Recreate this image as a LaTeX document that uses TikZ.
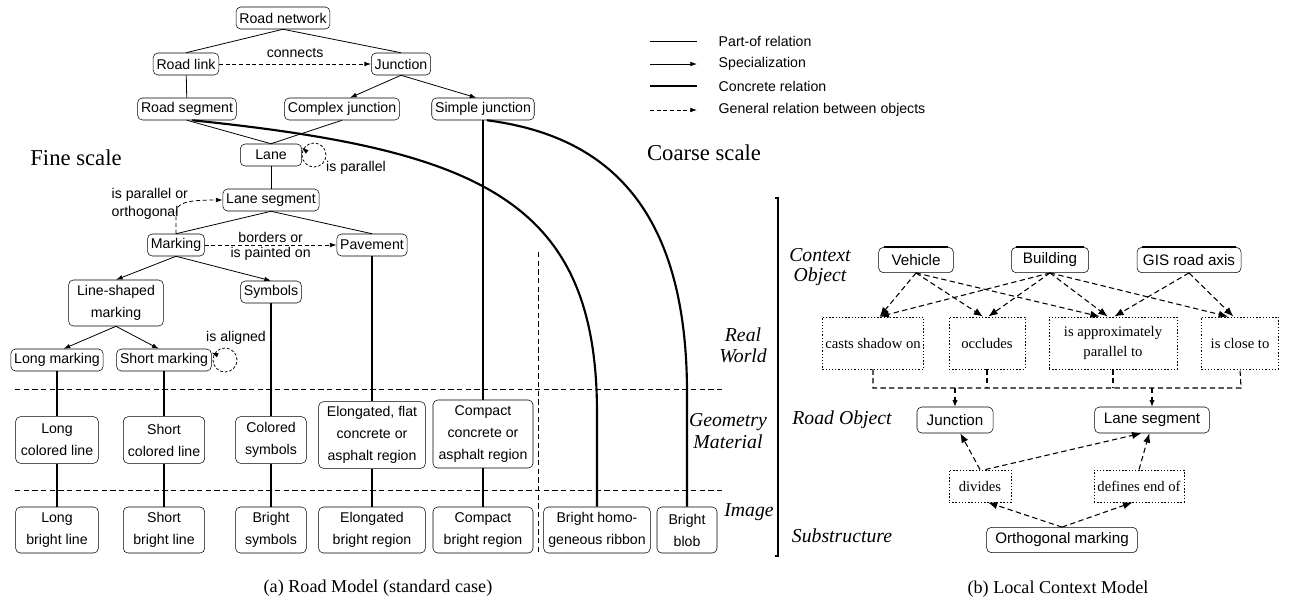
\documentclass[tikz,border=0pt]{standalone}
\usepackage{fontspec}
\setmainfont{Liberation Serif}
\setsansfont{Liberation Sans}
\usetikzlibrary{arrows.meta}

\begin{document}
\begin{tikzpicture}[x=0.75pt,y=-0.75pt,
  box/.style={draw, rounded corners=3.5pt, align=center, inner xsep=2.5pt, inner ysep=1.5pt,
    minimum height=16.5pt, font=\sffamily\fontsize{10.6}{16.5}\selectfont},
  bbox/.style={box, minimum height=19pt, font=\sffamily\fontsize{11.4}{14}\selectfont},
  relbox/.style={draw, dash pattern=on 1pt off 1.4pt, line width=0.7pt, align=center,
    minimum height=39pt, inner sep=1pt, font=\fontsize{11}{15}\selectfont},
  part/.style={line width=0.6pt},
  spec/.style={line width=0.6pt, -{Latex[length=5pt,width=3.5pt]}},
  conc/.style={line width=1.6pt},
  gen/.style={line width=0.6pt, dash pattern=on 3pt off 2pt, -{Latex[length=5pt,width=3.5pt]}},
  genb/.style={line width=0.8pt, dash pattern=on 4pt off 2.5pt, -{Latex[length=7pt,width=5.5pt]}},
  level/.style={font=\itshape\fontsize{14.8}{15.5}\selectfont, align=center},
  lbl/.style={font=\sffamily\fontsize{10.6}{13}\selectfont, align=left},
  sep/.style={line width=0.6pt, dash pattern=on 4pt off 2.5pt},
  loopc/.style={circle, draw, line width=0.6pt, dash pattern=on 2pt off 1.5pt, minimum size=18pt, inner sep=0pt},
]
\useasboundingbox (0,0) rectangle (1294,601);

% (a) road model
\node[box] (rnet) at (283,18) {Road network};
\node[box] (rlink) at (186,64) {Road link};
\node[box] (junc) at (401,64) {Junction};
\node[box] (rseg) at (187,109) {Road segment};
\node[box] (cjunc) at (342,109) {Complex junction};
\node[box] (sjunc) at (483,109) {Simple junction};
\node[box, minimum width=46pt] (lane) at (271,155) {Lane};
\node[box] (lseg) at (271,200) {Lane segment};
\node[box] (mark) at (176,245) {Marking};
\node[box] (pave) at (372,245) {Pavement};
\node[box, minimum width=71pt, minimum height=34.5pt] (lsm) at (116,303) {Line-shaped\\marking};
\node[box] (sym) at (271,292) {Symbols};
\node[box] (lmark) at (57,360) {Long marking};
\node[box] (smark) at (164,360) {Short marking};

\node[box, minimum width=62pt, minimum height=35pt] (lcol) at (57,440) {Long\\colored line};
\node[box, minimum width=61pt, minimum height=35pt] (scol) at (164,440) {Short\\colored line};
\node[box, minimum width=53pt, minimum height=35pt] (csym) at (271,440) {Colored\\symbols};
\node[box, minimum width=80pt, minimum height=50pt] (elong) at (372,435) {Elongated, flat\\concrete or\\asphalt region};
\node[box, minimum width=75pt, minimum height=51pt] (cmpct) at (483,434) {Compact\\concrete or\\asphalt region};

\node[box, minimum width=62pt, minimum height=34.5pt] (lbr) at (57,530) {Long\\bright line};
\node[box, minimum width=61pt, minimum height=34.5pt] (sbr) at (164,530) {Short\\bright line};
\node[box, minimum width=53pt, minimum height=34.5pt] (bsym) at (271,530) {Bright\\symbols};
\node[box, minimum width=80pt, minimum height=34.5pt] (ebr) at (372,530) {Elongated\\bright region};
\node[box, minimum width=75pt, minimum height=34.5pt] (cbr) at (483,530) {Compact\\bright region};
\node[box, minimum width=80pt, minimum height=34.5pt] (ribbon) at (597,530) {Bright homo-\\geneous ribbon};
\node[box, minimum width=45pt, minimum height=34.5pt] (blob) at (687,530) {Bright\\blob};

\draw[part] (rnet.south) -- (rlink.north);
\draw[part] (rnet.south) -- (junc.north);
\draw[part] (rlink) -- (rseg);
\draw[spec] (junc.south) -- ([xshift=6pt]cjunc.north);
\draw[spec] (junc.south) -- ([xshift=-5pt]sjunc.north);
\draw[part] (rseg.south) -- (lane.north);
\draw[part] (cjunc.south) -- (lane.north);
\draw[part] (lane) -- (lseg);
\draw[part] (lseg.south) -- (mark.north);
\draw[part] (lseg.south) -- (pave.north);
\draw[spec] (mark.south) -- (lsm.north);
\draw[spec] (mark.south) -- (sym.north);
\draw[spec] (lsm.south) -- ([xshift=5pt]lmark.north);
\draw[spec] (lsm.south) -- ([xshift=-4pt]smark.north);

\draw[gen] (rlink) -- (junc) node[midway, above=1pt, lbl] (conn) {connects};
\draw[gen] (mark) -- (pave)
  node[midway, above=-2pt, lbl] (bord) {borders or}
  node[midway, below=-2pt, lbl] (paint) {is painted on};
\draw[gen] (mark.north) -- (176,214) .. controls (176,203) and (185,200) .. (lseg.west);
\node[lbl, anchor=west] (parorth) at (107,204) {is parallel or\\orthogonal};

\node[loopc] (lloop) at (314,155) {};
\draw[gen] (lloop.150) -- ([yshift=-3pt]lane.north east);
\node[lbl] (ispar) at (356,168) {is parallel};
\node[loopc] (sloop) at (225,360) {};
\draw[gen] (sloop.150) -- ([yshift=-3pt]smark.north east);
\node[lbl] (isal) at (236,338) {is aligned};

\draw[conc] (lmark) -- (lcol) -- (lbr);
\draw[conc] (smark) -- (scol) -- (sbr);
\draw[conc] (sym) -- (csym) -- (bsym);
\draw[conc] (pave) -- (elong) -- (ebr);
\draw[conc] (sjunc) -- (cmpct) -- (cbr);
\draw[conc] ([xshift=4pt]rseg.south) .. controls (480,150) and (597,200) .. (597,413) -- (ribbon);
\draw[conc] ([xshift=3pt]sjunc.south) .. controls (600,135) and (687,200) .. (687,393) -- (blob);

\draw[sep] (15,389) -- (725,389);
\draw[sep] (15,490) -- (725,490);
\draw[sep] (538,252) -- (538,552);

\node[font=\fontsize{17}{20}\selectfont] (fine) at (76,158) {Fine scale};
\node[font=\fontsize{17}{20}\selectfont] (coarse) at (704,153) {Coarse scale};
\node[level] (real) at (743,345) {Real\\World};
\node[level, font=\itshape\fontsize{14.8}{16.5}\selectfont] (geom) at (728,431) {Geometry\\Material};
\node[level] (img) at (749,512) {Image};

% legend
\draw[part] (650,41) -- (697,41);
\draw[spec] (650,64) -- (697,64);
\draw[conc] (650,86) -- (697,86);
\draw[gen] (650,110) -- (697,110);
\node[lbl, anchor=west] (lg1) at (714,41) {Part-of relation};
\node[lbl, anchor=west] (lg2) at (714,64) {Specialization};
\node[lbl, anchor=west] (lg3) at (714,86) {Concrete relation};
\node[lbl, anchor=west] (lg4) at (714,110) {General relation between objects};

\node[font=\fontsize{13.6}{16}\selectfont] (capa) at (378,588) {(a) Road Model (standard case)};

% (b) local context model
\draw[line width=0.8pt] (775,198) -- (778,198) -- (778,556) -- (775,556);

\node[level] (ctxl) at (820,267) {Context\\Object};
\node[level] (robl) at (842,420) {Road Object};
\node[level] (subl) at (842,536) {Substructure};

\node[bbox, minimum width=56pt] (veh) at (916,260) {Vehicle};
\node[bbox, minimum width=58pt] (bld) at (1050,260) {Building};
\node[bbox, minimum width=78pt] (gis) at (1189,260) {GIS road axis};
\foreach \n in {veh,bld,gis}
  \draw[line width=1.6pt] ([xshift=4pt]\n.north west) -- ([xshift=-4pt]\n.north east);

\node[relbox, minimum width=76pt] (cast) at (873,343) {casts shadow on};
\node[relbox, minimum width=57pt] (occl) at (987,343) {occludes};
\node[relbox, minimum width=96pt] (appr) at (1113,343) {is approximately\\parallel to};
\node[relbox, minimum width=58pt] (near) at (1240,343) {is close to};

\node[bbox, minimum width=57pt, minimum height=19.5pt] (jct) at (955,420) {Junction};
\node[bbox, minimum width=86pt, minimum height=19.5pt] (lseg2) at (1152,420) {Lane segment};
\node[relbox, minimum width=46.5pt, minimum height=24pt] (div) at (980,486) {divides};
\node[relbox, minimum width=67.5pt, minimum height=24pt] (dend) at (1139,486) {defines end of};
\node[bbox, minimum width=113pt] (orth) at (1062,540) {Orthogonal marking};

\draw[genb] (veh.south) -- ([xshift=5pt]cast.north);
\draw[genb] (veh.south) -- ([xshift=-3pt]occl.north);
\draw[genb] (veh.south) -- ([xshift=-10pt]appr.north);
\draw[genb] (bld.south) -- ([xshift=5pt]cast.north);
\draw[genb] (bld.south) -- ([xshift=1pt]occl.north);
\draw[genb] (bld.south) -- ([xshift=-4pt]appr.north);
\draw[genb] (bld.south) -- ([xshift=-9pt]near.north);
\draw[genb] (gis.south) -- ([xshift=1pt]appr.north);
\draw[genb] (gis.south) -- ([xshift=-5pt]near.north);

\coordinate (joinl) at (873,388);
\coordinate (joinr) at (1241,388);
\draw[sep, line width=0.8pt] (cast.south) -- (joinl) -- (joinr) -- (near.south);
\draw[sep, line width=0.8pt] (occl.south) -- (occl.south |- joinl);
\draw[sep, line width=0.8pt] (appr.south) -- (appr.south |- joinl);
\draw[genb, -{Latex[length=5pt,width=4pt]}] (jct.north |- joinl) -- (jct.north);
\draw[genb, -{Latex[length=5pt,width=4pt]}] (lseg2.north |- joinl) -- (lseg2.north);

\draw[genb] (div.north) -- ([xshift=4pt]jct.south);
\draw[genb] ([xshift=4pt]div.north) -- ([xshift=-8pt]lseg2.south);
\draw[genb] (dend.north) -- ([xshift=-2pt]lseg2.south);
\draw[genb] (orth.north) -- ([xshift=6pt]div.south);
\draw[genb] (orth.north) -- ([xshift=-5pt]dend.south);

\node[font=\fontsize{13.6}{16}\selectfont] (capb) at (1058,589) {(b) Local Context Model};
\end{tikzpicture}
\end{document}
